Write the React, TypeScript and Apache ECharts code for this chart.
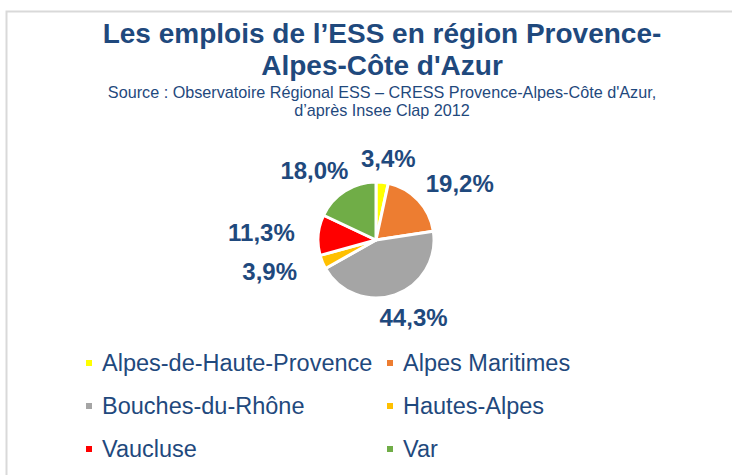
import React, { useEffect, useRef } from "react";
import * as echarts from "echarts";

const categories = [
  "Alpes-de-Haute-Provence",
  "Alpes Maritimes",
  "Bouches-du-Rhône",
  "Hautes-Alpes",
  "Vaucluse",
  "Var",
];
const shares = [3.4, 19.2, 44.3, 3.9, 11.3, 18.0];
const colors = ["#FFFF00", "#ED7D31", "#A5A5A5", "#FFC000", "#FF0000", "#70AD47"];
const titleLines = "Les emplois de l’ESS en région Provence-\nAlpes-Côte d'Azur";
const subtitleLines =
  "Source : Observatoire Régional ESS – CRESS Provence-Alpes-Côte d'Azur,\nd’après Insee Clap 2012";

const FONT = "'Liberation Sans', Arial, sans-serif";
const BLUE = "#1F497D";

// label placement: text centred on an ellipse around the pie (like Excel "best fit")
const LABEL_RY = 82;
const LABEL_RX = 115;

export default function App() {
  const ref = useRef<HTMLDivElement>(null);
  useEffect(() => {
    if (!ref.current) return;
    const chart = echarts.init(ref.current, null, { renderer: "svg" });
    const data = categories.map((name, i) => ({
      name,
      value: shares[i],
      itemStyle: { color: colors[i] },
    }));
    const total = shares.reduce((a, b) => a + b, 0);
    const midAngle = (idx: number) => {
      let cum = 0;
      for (let i = 0; i < idx; i++) cum += shares[i];
      return ((cum + shares[idx] / 2) / total) * Math.PI * 2;
    };
    const legendCommon = {
      orient: "vertical",
      top: 350,
      padding: 0,
      icon: "rect",
      itemWidth: 8,
      itemHeight: 8,
      itemGap: 17,
      selectedMode: false,
      textStyle: {
        fontFamily: FONT,
        fontSize: 23.5,
        lineHeight: 26,
        color: BLUE,
        padding: [0, 0, 0, 4],
      },
    };
    chart.setOption({
      animation: false,
      backgroundColor: "#ffffff",
      graphic: [
        {
          type: "rect",
          shape: { x: 6.5, y: 11.5, width: 760, height: 500 },
          style: { fill: "none", stroke: "#D9D9D9", lineWidth: 2 },
          silent: true,
        },
        {
          type: "text",
          x: 382,
          y: 17,
          style: {
            text: titleLines,
            align: "center",
            verticalAlign: "top",
            fontFamily: FONT,
            fontWeight: "bold",
            fontSize: 28,
            lineHeight: 32,
            fill: BLUE,
          },
        },
        {
          type: "text",
          x: 382,
          y: 83,
          style: {
            text: subtitleLines,
            align: "center",
            verticalAlign: "top",
            fontFamily: FONT,
            fontSize: 16.2,
            lineHeight: 18,
            fill: BLUE,
          },
        },
      ],
      legend: [
        { ...legendCommon, data: [categories[0], categories[2], categories[4]], left: 84 },
        { ...legendCommon, data: [categories[1], categories[3], categories[5]], left: 385 },
      ],
      series: [
        {
          type: "pie",
          center: [376, 240],
          radius: 58,
          startAngle: 90,
          clockwise: true,
          avoidLabelOverlap: false,
          itemStyle: { borderColor: "#ffffff", borderWidth: 3 },
          label: {
            show: true,
            position: "outside",
            distanceToLabelLine: 0,
            formatter: (p: any) => p.value.toFixed(1).replace(".", ",") + "%",
            fontFamily: FONT,
            fontWeight: "bold",
            fontSize: 24,
            color: BLUE,
          },
          labelLine: { show: false, length: LABEL_RY - 58, length2: 0 },
          labelLayout: (params: any) => ({
            align: "center",
            verticalAlign: "middle",
            dx: (LABEL_RX - LABEL_RY) * Math.sin(midAngle(params.dataIndex)),
          }),
          emphasis: { disabled: true },
          data,
        },
      ],
    });
    return () => chart.dispose();
  }, []);
  return (
    <div
      ref={ref}
      style={{ position: "fixed", left: 0, top: 0, width: 732, height: 475 }}
    />
  );
}
